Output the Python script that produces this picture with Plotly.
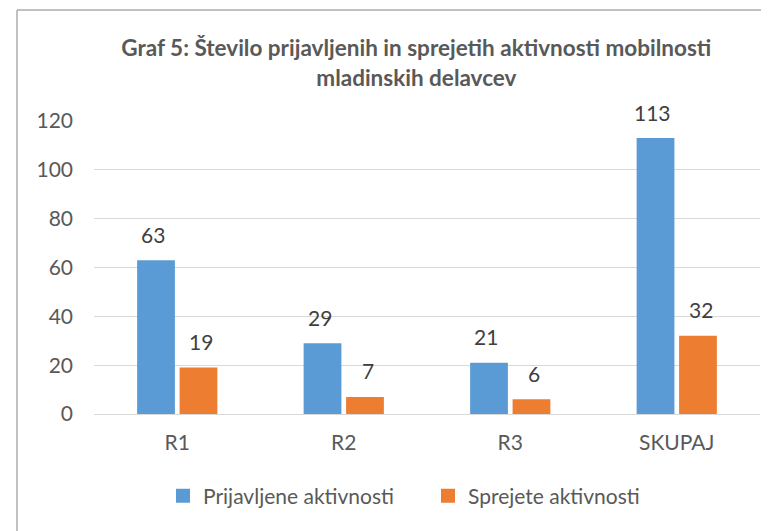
import plotly.graph_objects as go

categories = ["R1", "R2", "R3", "SKUPAJ"]
prijavljene = [63, 29, 21, 113]
sprejete = [19, 7, 6, 32]
series_names = ["Prijavljene aktivnosti", "Sprejete aktivnosti"]
colors = ["#5B9BD5", "#ED7D31"]
title_text = "Graf 5: Število prijavljenih in sprejetih aktivnosti mobilnosti<br>mladinskih delavcev"

FONT = "Lato, 'Open Sans', sans-serif"

fig = go.Figure()
for name, vals, col in zip(series_names, [prijavljene, sprejete], colors):
    fig.add_trace(go.Bar(x=categories, y=vals, name=name, marker_color=col,
                         marker_line_width=0, showlegend=False, legendgroup=name))
# legend entries with larger square keys
for name, col in zip(series_names, colors):
    fig.add_trace(go.Scatter(x=[None], y=[None], mode="markers", name=name,
                             legendgroup=name,
                             marker=dict(symbol="square", size=14, color=col)))

annotations = []
for vals, shift in [(prijavljene, -24), (sprejete, 24)]:
    for c, v in zip(categories, vals):
        annotations.append(dict(x=c, y=v, xref="x", yref="y", text=str(v),
                                showarrow=False, xshift=shift, yshift=26,
                                yanchor="middle",
                                font=dict(family=FONT, size=21, color="#404040")))

fig.update_layout(
    width=769, height=531,
    margin=dict(l=86, r=17, t=113, b=125),
    paper_bgcolor="white", plot_bgcolor="white",
    barmode="group", bargap=0.49, bargroupgap=0.11,
    title=dict(text=title_text, x=0.484, xref="paper", xanchor="center",
               y=0.909, yref="container", yanchor="middle",
               font=dict(family=FONT, size=22.5, color="#595959", weight="bold")),
    font=dict(family=FONT, size=21, color="#595959"),
    legend=dict(orientation="h", x=0.1036, xanchor="left", y=-0.28, yanchor="middle",
                font=dict(family=FONT, size=21, color="#595959"),
                entrywidth=220, entrywidthmode="pixels",
                itemsizing="trace", tracegroupgap=0),
    annotations=annotations,
    showlegend=True,
)
fig.update_yaxes(range=[0, 120], dtick=20, showgrid=True, gridcolor="#D9D9D9",
                 gridwidth=1, zeroline=True, zerolinecolor="#D9D9D9", zerolinewidth=1,
                 showline=False, ticks="", ticklabelstandoff=20,
                 tickfont=dict(family=FONT, size=21, color="#595959"))
fig.update_xaxes(type="category", categoryorder="array", categoryarray=categories,
                 range=[-0.5, len(categories) - 0.5],
                 showgrid=False, showline=False, ticks="", ticklabelstandoff=14,
                 tickfont=dict(family=FONT, size=21, color="#595959"))

# chart border (left and top edges visible)
fig.add_shape(type="line", xref="paper", yref="paper", x0=-0.1156, x1=-0.1156,
              y0=-0.45, y1=1.379, line=dict(color="#ADADAD", width=1.5))
fig.add_shape(type="line", xref="paper", yref="paper", x0=-0.1156, x1=1.1,
              y0=1.379, y1=1.379, line=dict(color="#ADADAD", width=1.5))

fig.write_html("out.html")
